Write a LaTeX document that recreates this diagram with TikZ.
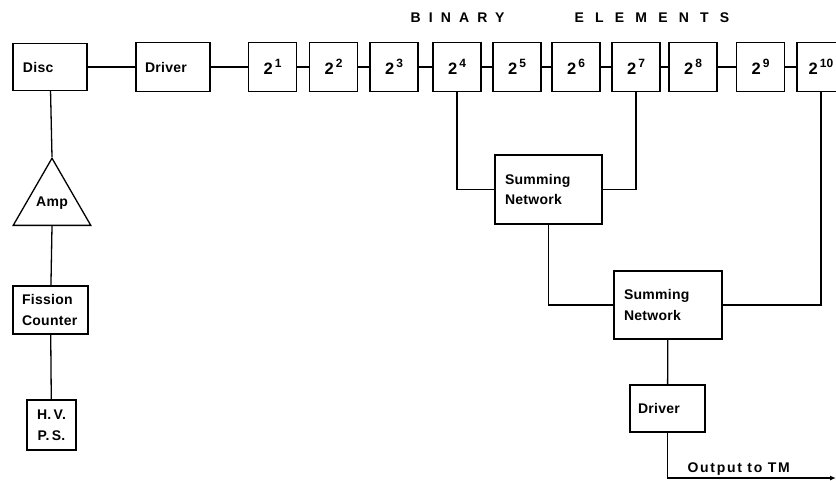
\documentclass[tikz,border=0pt]{standalone}
\usepackage{fontspec}
\usepackage{tikz}
\usetikzlibrary{positioning}
\usetikzlibrary{shapes.geometric, arrows.meta}

\newfontfamily\lblfont[LetterSpace=2]{Liberation Sans}
\newfontfamily\outfont[LetterSpace=12]{Liberation Sans}
\newfontfamily\binfont[LetterSpace=58]{Liberation Sans}
\newfontfamily\elemfont[LetterSpace=80]{Liberation Sans}
\newcommand{\lbl}{\lblfont\bfseries\fontsize{14}{20.5}\selectfont}
\newcommand{\bpow}[1]{{\lblfont\bfseries\fontsize{16.5}{16.5}\selectfont 2}\kern2pt\raisebox{7.5pt}{\lblfont\bfseries\fontsize{12}{12}\selectfont #1}}

\begin{document}
\begin{tikzpicture}[x=1pt,y=-1pt,line width=1.3pt,
  box/.style={draw,inner xsep=10pt,inner ysep=0pt,align=left,font=\lbl},
  bit/.style={draw,minimum width=48pt,minimum height=49pt,inner sep=0pt},
  title/.style={inner sep=0pt,anchor=base west}]
\clip (0,0) rectangle (836,480);

% the heading
\node[title,font=\binfont\bfseries\fontsize{14}{14}\selectfont] (bin) at (410,22) {BINARY};
\node[title,font=\elemfont\bfseries\fontsize{14}{14}\selectfont] (elem) at (574,22) {ELEMENTS};

% the left column
\node[box,text width=54pt,minimum height=47pt] (disc) at (50,67) {Disc};
\node[draw,regular polygon,regular polygon sides=3,minimum size=82pt,inner sep=0pt,font=\lbl] (amp) at (52,203) {Amp};
\node[box,text width=57pt,inner xsep=9pt,minimum height=48pt] (fiss) at (50.5,310) {Fission\\Counter};
\node[box,text width=35pt,inner xsep=7pt,align=center,minimum height=50pt] (hvps) at (51.5,425) {H.\,V.\\P.\,S.};

% the driver and the binary elements
\node[box,text width=56pt,inner xsep=9pt,minimum height=49pt] (drv) at (173,67) {Driver};
\foreach \n/\x in {1/272.5,2/333.5,3/394,4/457,5/517,6/576,7/636,8/693,9/760.5,10/821}
  \node[bit] (b\n) at (\x,67) {\bpow{\n}};

% the summing networks and the output driver
\node[box,text width=87pt,minimum height=69pt] (sum1) at (548.5,189.5) {Summing\\Network};
\node[box,text width=88pt,minimum height=68pt] (sum2) at (668,305) {Summing\\Network};
\node[box,text width=59pt,inner xsep=8pt,minimum height=47pt] (drv2) at (667.5,408.5) {Driver};
\coordinate (out) at (836,478);
\node[inner sep=0pt,anchor=base west,font=\outfont\bfseries\fontsize{14}{16}\selectfont] (outtxt) at (687,472) {Output to TM};

% the lines
\draw (disc) -- (amp.north);
\draw (amp.south) -- (fiss);
\draw (fiss) -- (hvps);
\draw (disc) -- (drv);
\draw (drv) -- (b1);
\foreach \a/\b in {1/2,2/3,3/4,4/5,5/6,6/7,7/8,8/9,9/10}
  \draw (b\a) -- (b\b);
\draw (b4.south) |- (sum1.west);
\draw (b7.south) |- (sum1.east);
\draw (sum1.south) |- (sum2.west);
\draw (b10.south) |- (sum2.east);
\draw (sum2) -- (drv2);
\draw[-{Latex[length=6pt,width=5pt]}] (drv2.south) |- (out);
\end{tikzpicture}
\end{document}
